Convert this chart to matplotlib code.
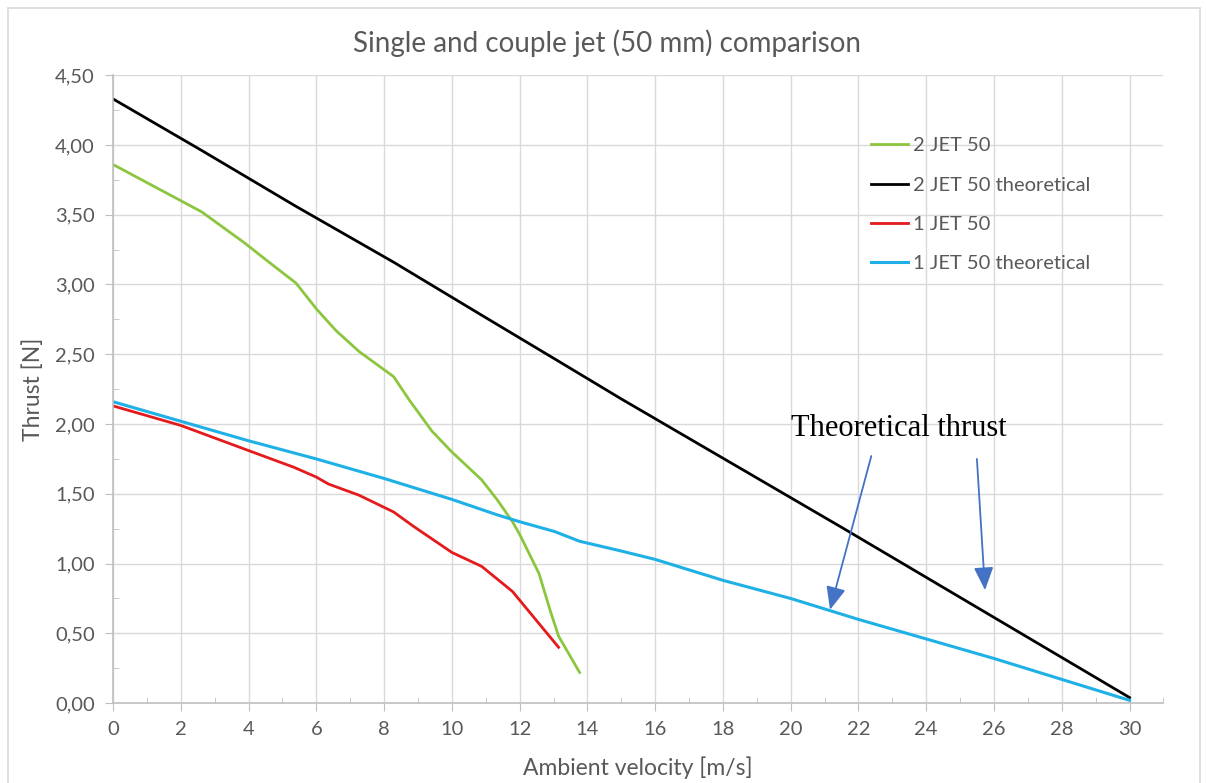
import numpy as np
import matplotlib
matplotlib.use("Agg")
import matplotlib.pyplot as plt
from matplotlib.ticker import MultipleLocator, FuncFormatter
from matplotlib.patches import Rectangle

# 2 JET 50 (measured)
v_2jet = [0, 2.62, 3.87, 4.55, 5.40, 6.02, 6.58, 7.26, 8.28, 8.75, 9.41, 10.0,
          10.88, 11.33, 11.79, 12.0, 12.57, 12.92, 13.15, 13.77]
t_2jet = [3.86, 3.52, 3.30, 3.17, 3.01, 2.82, 2.67, 2.52, 2.34, 2.17, 1.95, 1.80,
          1.60, 1.46, 1.30, 1.21, 0.93, 0.65, 0.48, 0.22]

# 2 JET 50 theoretical
v_2jet_th = [0, 2.62, 5.40, 8.28, 10.88, 13.15, 15.0, 21.5, 30.0]
t_2jet_th = [4.33, 3.96, 3.56, 3.16, 2.78, 2.45, 2.18, 1.26, 0.04]

# 1 JET 50 (measured)
v_1jet = [0, 2.0, 4.0, 5.34, 6.0, 6.36, 7.26, 8.28, 8.85, 10.0, 10.88, 11.79,
          12.47, 13.15]
t_1jet = [2.13, 1.99, 1.81, 1.69, 1.62, 1.57, 1.49, 1.37, 1.27, 1.08, 0.98, 0.80,
          0.60, 0.40]

# 1 JET 50 theoretical
v_1jet_th = [0, 2, 4, 6, 8, 10, 11.33, 12, 13.03, 13.77, 15, 16, 18, 20, 22, 24,
             26, 28, 30]
t_1jet_th = [2.16, 2.02, 1.88, 1.75, 1.61, 1.46, 1.35, 1.30, 1.23, 1.16, 1.09,
             1.03, 0.88, 0.75, 0.60, 0.46, 0.32, 0.17, 0.02]

gray = "#595959"
font = ["Lato", "DejaVu Sans"]

fig = plt.figure(figsize=(12.06, 7.83), dpi=100)
ax = fig.add_axes([0.0937, 0.102, 0.871, 0.802])

fig.patches.append(Rectangle((0.007, -0.01), 0.988, 1.0, transform=fig.transFigure,
                             fill=False, edgecolor="#d9d9d9", linewidth=1.2))

ax.plot(v_2jet, t_2jet, color="#8cc63f", lw=2, label="2 JET 50")
ax.plot(v_2jet_th, t_2jet_th, color="black", lw=2, label="2 JET 50 theoretical")
ax.plot(v_1jet, t_1jet, color="#e41a1c", lw=2, label="1 JET 50")
ax.plot(v_1jet_th, t_1jet_th, color="#1fb0e6", lw=2.2, label="1 JET 50 theoretical")

ax.set_xlim(0, 31)
ax.set_ylim(0, 4.5)
ax.xaxis.set_major_locator(MultipleLocator(2))
ax.xaxis.set_minor_locator(MultipleLocator(1))
ax.yaxis.set_major_locator(MultipleLocator(0.5))
ax.yaxis.set_minor_locator(MultipleLocator(0.25))
ax.yaxis.set_major_formatter(FuncFormatter(lambda y, p: f"{y:.2f}".replace(".", ",")))
ax.set_xticks([0, 2, 4, 6, 8, 10, 12, 14, 16, 18, 20, 22, 24, 26, 28, 30])

ax.grid(True, which="major", color="#d9d9d9", lw=1)
ax.set_axisbelow(True)
for s in ["top", "right"]:
    ax.spines[s].set_visible(False)
for s in ["left", "bottom"]:
    ax.spines[s].set_color("#bfbfbf")
    ax.spines[s].set_linewidth(1.2)
ax.tick_params(which="major", direction="out", length=6, color="#bfbfbf",
               labelcolor=gray, labelsize=14.5, pad=7)
ax.tick_params(which="minor", direction="in", length=4, color="#bfbfbf")
for lbl in ax.get_xticklabels() + ax.get_yticklabels():
    lbl.set_family(font)

ax.set_xlabel("Ambient velocity [m/s]", color=gray, fontsize=16.5, family=font, labelpad=13)
ax.set_ylabel("Thrust [N]", color=gray, fontsize=16.5, family=font, labelpad=8)
fig.text(0.503, 0.945, "Single and couple jet (50 mm) comparison", color=gray,
         fontsize=20, family=font, ha="center", va="center")

leg = ax.legend(loc="upper left", bbox_to_anchor=(0.704, 0.93), frameon=False,
                handlelength=1.85, handletextpad=0.25, labelspacing=1.1,
                prop={"family": font, "size": 14.5})
for t in leg.get_texts():
    t.set_color(gray)

ax.text(23.2, 1.97, "Theoretical thrust", family=["Liberation Serif", "DejaVu Serif"],
        fontsize=22, ha="center", va="center", color="black")
arrow = dict(arrowstyle="-|>,head_length=1.4,head_width=0.6", color="#4472c4", lw=1.3)
ax.annotate("", xy=(21.14, 0.65), xytext=(22.4, 1.79), arrowprops=arrow)
ax.annotate("", xy=(25.74, 0.79), xytext=(25.49, 1.77), arrowprops=arrow)

fig.savefig("out.png", dpi=100)
